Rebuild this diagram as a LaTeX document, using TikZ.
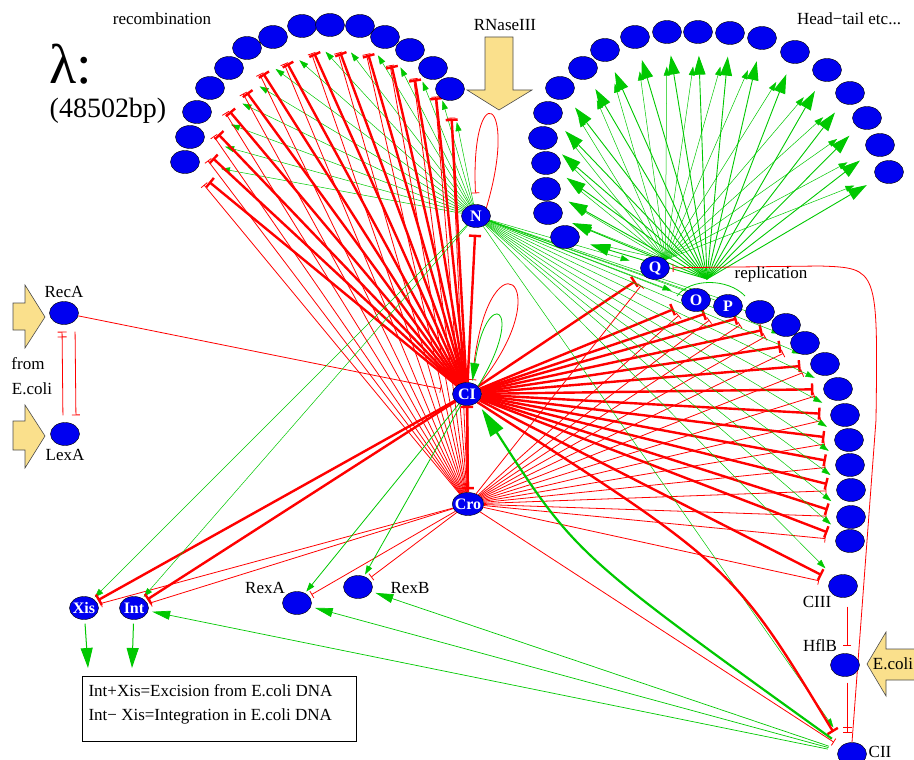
\documentclass[tikz,border=0pt]{standalone}
\usepackage{fontspec}
\setmainfont{Liberation Serif}
\usetikzlibrary{arrows.meta,shapes.geometric,backgrounds}
\definecolor{geneblue}{RGB}{0,0,240}
\definecolor{upgreen}{RGB}{0,200,0}
\definecolor{downred}{RGB}{255,0,0}
\definecolor{inflow}{RGB}{250,224,140}
\tikzset{
  every picture/.style={
    x=1pt, y=-1pt,
    every node/.style={font=\fontsize{17}{24}\selectfont}
  },
  gene/.style={
    ellipse, draw=black, line width=0.4pt, fill=geneblue,
    minimum width=29pt, minimum height=23pt,
    inner sep=-2pt, text=white,
    font=\fontsize{16}{18}\selectfont\bfseries
  },
  act/.style={draw=upgreen, line width=0.5pt,
    -{Triangle[length=9pt,width=6pt]}},
  bigact/.style={draw=upgreen, line width=0.9pt,
    -{Triangle[length=19pt,width=12pt]}},
  rep/.style={draw=downred, line width=0.8pt, -{Bar[width=8pt]}},
  threp/.style={draw=downred, line width=2.4pt, -{Bar[width=12pt]}},
  inarrow/.style={fill=inflow, draw=black!70, line width=0.6pt}
}

\begin{document}
\begin{tikzpicture}
  \useasboundingbox (0,0) rectangle (914,760);
  % gene clusters
  \foreach \x/\y [count=\i] in {185/162,190/137,197/112,210/88,229/68,247/48,
      273/37,302/26,330/25,360/26,385/37,410/50,433/68,450/89}
    \node[gene] (rc\i) at (\x,\y) {};
  \foreach \x/\y [count=\i] in {565/237,548/213,546/189,546/163,543/138,548/113,
      560/88,583/68,605/50,635/37,667/32,698/32,730/33,762/38,795/52,827/70,
      850/93,867/118,880/145,889/172}
    \node[gene] (ht\i) at (\x,\y) {};
  \foreach \x/\y [count=\i] in {760/312,786/325,805/343,825/364,838/389,
      845/415,849/440,850/465,851/490,851/517,850/541}
    \node[gene] (rp\i) at (\x,\y) {};
  \node[gene] (N) at (476,216) {N};
  \node[gene] (CI) at (467,394) {CI};
  \node[gene] (Cro) at (468,504) {Cro};
  \node[gene] (Q) at (655,268) {Q};
  \node[gene] (O) at (696,300) {O};
  \node[gene] (P) at (728,306) {P};
  \node[gene,label={[font=\fontsize{17}{24}\selectfont]above:RecA}] (RecA) at (64,313) {};
  \node[gene,label={[font=\fontsize{17}{24}\selectfont]below:LexA}] (LexA) at (65,434) {};
  \node[gene] (Xis) at (84,608) {Xis};
  \node[gene] (Int) at (134,608) {Int};
  \node[gene] (RexA) at (297,603) {};
  \node[gene] (RexB) at (358,587) {};
  \node[gene] (CIII) at (843,586) {};
  \node[gene] (HflB) at (845,665) {};
  \node[gene] (CII) at (852,754) {};
  \coordinate (rephub) at (707,279);
  \coordinate (xisout) at (88,668);
  \coordinate (intout) at (132,668);

  \begin{scope}[on background layer]
    % recombination
    \foreach \i in {1,...,14} {
      \draw[act,shorten >=22pt] (N) -- (rc\i);
      \draw[rep,shorten >=17pt] (Cro) -- (rc\i);
      \draw[threp,shorten >=18pt] (CI) -- (rc\i);
    }
    % head-tail
    \foreach \i in {1,...,20} {
      \draw[act,shorten >=23pt] (Q.north east) -- (ht\i);
      \draw[bigact,shorten >=12pt] (rephub) -- (ht\i);
    }
    % replication and right genes
    \foreach \g in {Q,O,P,rp1,rp2,rp3,rp4,rp5,rp6,rp7,rp8,rp9,rp10,rp11,CIII} {
      \draw[act,shorten >=12pt] (N) -- (\g);
      \draw[rep,shorten >=10pt] (Cro) -- (\g);
      \draw[threp,shorten >=10pt] (CI) -- (\g);
    }
    \draw[upgreen,line width=0.8pt] (677,296) .. controls (690,278) and (728,278) .. (745,296);
    % self loops
    \draw[rep,shorten >=11pt] (N.north east) .. controls (520,95) and (470,75) .. (N.north);
    \draw[rep,shorten >=3pt] (CI.35) .. controls (565,280) and (485,225) .. (CI.65);
    \draw[act,line width=0.8pt,-{Triangle[length=18pt,width=9pt]},shorten >=2pt]
      (CI.35) .. controls (528,305) and (486,285) .. (CI.65);
    % CI, Cro, N
    \draw[threp,shorten >=7pt] (CI) -- (N);
    \draw[threp,shorten >=3pt] (CI) -- (Cro);
    \draw[threp] (Cro) -- (CI);
    % SOS input
    \draw[rep,shorten >=12pt] (RecA) -- (CI);
    \draw[rep,-{Bar[width=9pt,sep=4pt]Bar[width=9pt]},shorten >=7pt,shorten <=7pt]
      ([xshift=-2pt]LexA.north) -- ([xshift=-2pt]RecA.south);
    \draw[rep,shorten >=7pt,shorten <=7pt]
      ([xshift=11pt]RecA.south) -- ([xshift=11pt]LexA.north);
    % integration / excision
    \foreach \g in {Xis,Int} {
      \draw[act,shorten >=2pt] (N) -- (\g);
      \draw[threp,shorten >=2pt] (CI) -- (\g);
      \draw[rep,shorten >=3pt] (Cro) -- (\g);
    }
    \draw[act,line width=1pt,-{Triangle[length=20pt,width=12pt]},shorten <=4pt] (Xis) -- (xisout);
    \draw[act,line width=1pt,-{Triangle[length=20pt,width=12pt]},shorten <=4pt] (Int) -- (intout);
    % rex
    \foreach \g in {RexA,RexB} {
      \draw[act,line width=0.8pt,shorten >=2pt] (CI) -- (\g);
      \draw[rep,shorten >=3pt] (Cro) -- (\g);
    }
    % CII and friends
    \draw[act,shorten >=20pt] (N) -- (CII);
    \draw[rep,shorten >=8pt] (Cro) -- (CII);
    \draw[threp,shorten >=16pt] (CI.south east) .. controls (733,566) .. (CII.north west);
    \draw[act,line width=2.2pt,-{Triangle[length=28pt,width=15pt]},shorten <=12pt,shorten >=8pt]
      (CII.north west) .. controls (575,554) .. (CI.south east);
    \foreach \g in {Int,RexA,RexB}
      \draw[act,line width=0.7pt,-{Triangle[length=18pt,width=9pt]},shorten <=10pt,shorten >=4pt]
        (CII) -- (\g);
    \draw[rep,shorten >=3pt] (CII.north) -- (876,420) .. controls (878,268) .. (820,266) -- (Q);
    \draw[rep,shorten <=9pt,shorten >=8pt] ([xshift=4pt]CIII.south) -- ([xshift=2pt]HflB.north);
    \draw[rep,-{Bar[width=9pt,sep=4pt]Bar[width=9pt]},shorten <=6pt,shorten >=10pt]
      ([xshift=2pt]HflB.south) -- ([xshift=-5pt]CII.north);
  \end{scope}

  % outside inputs
  \draw[inarrow] (485,37) -- (513,37) -- (513,90) -- (532,90) -- (499,110)
    -- (467,90) -- (485,90) -- cycle;
  \draw[inarrow] (13,303) -- (25,303) -- (25,285) -- (45,317) -- (25,348)
    -- (25,330) -- (13,330) -- cycle;
  \draw[inarrow] (13,421) -- (25,421) -- (25,405) -- (45,436) -- (25,468)
    -- (25,450) -- (13,450) -- cycle;
  \draw[inarrow] (916,649) -- (886,649) -- (886,632) -- (867,664) -- (886,696)
    -- (886,680) -- (916,680) -- cycle;

  % texts
  \node[font=\fontsize{56}{60}\selectfont] (lam) at (71,64) {λ:};
  \node[font=\fontsize{28}{32}\selectfont] (bp) at (108,111) {(48502bp)};
  \node (rectext) at (162,19) {recombination};
  \node (httext) at (849,19) {Head−tail etc...};
  \node (rntext) at (505,25) {RNaseIII};
  \node (reptext) at (771,274) {replication};
  \node (fromtext) at (28,364) {from};
  \node (ecolitext) at (32,389) {E.coli};
  \node (rexatext) at (265,588) {RexA};
  \node (rexbtext) at (410,588) {RexB};
  \node (ciiitext) at (817,602) {CIII};
  \node (hflbtext) at (820,646) {HflB};
  \node (ciitext) at (880,752) {CII};
  \node (ecolisig) at (893,664) {E.coli};
  \draw (82,676) rectangle (356,741);
  \node[anchor=west,align=left] (legend) at (85,704)
    {Int+Xis=Excision from E.coli DNA\\Int− Xis=Integration in E.coli DNA};
\end{tikzpicture}
\end{document}
